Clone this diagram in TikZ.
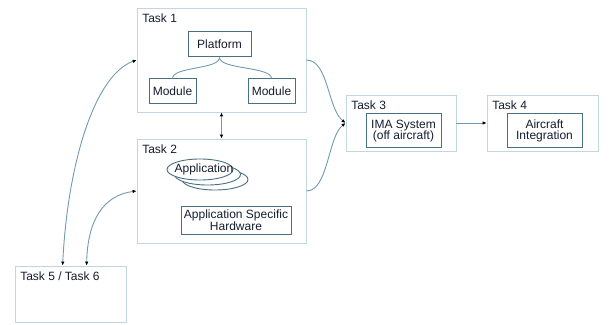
\documentclass[tikz,border=0pt]{standalone}
\usepackage{fontspec}
\setmainfont{Liberation Sans}
\usepackage{xcolor}
\usetikzlibrary{arrows.meta}
\usetikzlibrary{shapes.geometric, math}
\definecolor{myblue}{RGB}{192,214,226}
\definecolor{myteal}{RGB}{72,112,128}
\definecolor{mylink}{RGB}{112,155,176}
\definecolor{mytext}{RGB}{20,28,44}

\tikzset{
  task/.style={draw=myblue, line width=0.8pt, inner sep=0pt},
  tasklabel/.style={anchor=north west, inner sep=1.5pt},
  inbox/.style={draw=myteal, line width=1pt, inner sep=1pt, align=center},
  app/.style={ellipse, draw=myteal, line width=0.9pt, fill=white, inner sep=0pt,
    minimum width=66pt, minimum height=21pt},
  link/.style={draw=mylink, line width=0.9pt},
  tip/.style={-{Latex[color=black,length=4pt,width=3.5pt]}},
  bothtip/.style={{Latex[color=black,length=4pt,width=3.5pt]}-{Latex[color=black,length=4pt,width=3.5pt]}}
}

\begin{document}
\begin{tikzpicture}[x=1pt, y=1pt, font=\fontsize{12}{13.5}\selectfont, text=mytext]
\tikzmath{
\bw=169; \bh=104;
\sw=111; \sh=56;
}
\useasboundingbox (0,0) rectangle (609,324);

% task boxes
\node[task, minimum width=\bw, minimum height=\bh] (task1) at (221.5,264) {};
\node[task, minimum width=\bw, minimum height=\bh] (task2) at (221.5,133) {};
\node[task, minimum width=110, minimum height=\sh] (task3) at (401,201) {};
\node[task, minimum width=\sw, minimum height=\sh] (task4) at (542.5,201) {};
\node[task, minimum width=\sw, minimum height=\sh] (task56) at (70.5,30) {};

\node[tasklabel] (lab1) at ([shift={(4,-4.5)}]task1.north west) {Task 1};
\node[tasklabel] (lab2) at ([shift={(4,-4.5)}]task2.north west) {Task 2};
\node[tasklabel] (lab3) at ([shift={(4,-4.5)}]task3.north west) {Task 3};
\node[tasklabel] (lab4) at ([shift={(4,-4.5)}]task4.north west) {Task 4};
\node[tasklabel] (lab56) at ([shift={(4,-4.5)}]task56.north west) {Task 5 / Task 6};

% task 1
\node[inbox, minimum width=63, minimum height=25] (platform) at (219.5,279.5) {Platform};
\node[inbox, minimum width=47, minimum height=25] (modl) at (172.5,232.5) {Module};
\node[inbox, minimum width=47, minimum height=25] (modr) at (271.5,232.5) {Module};
\draw[link] (platform.south) .. controls +(0,-12) and +(0,12) .. (modl.north);
\draw[link] (platform.south) .. controls +(0,-12) and +(0,12) .. (modr.north);

% task 2
\node[app] (app3) at (215,144.5) {};
\node[app] (app2) at (207.5,149.5) {};
\node[app] (app1) at (200,154.5) {};
\node (apptext) at (204,155) {Application};
\node[inbox, minimum width=110, minimum height=28] (hw) at (236,104) {Application Specific\\[-2pt]Hardware};

% task 3 and 4
\node[inbox, minimum width=75, minimum height=34] (ima) at (403.5,193) {IMA System\\[-2pt](off aircraft)};
\node[inbox, minimum width=75, minimum height=34] (acint) at (544.5,193) {Aircraft\\[-2pt]Integration};

% connectors
\draw[link, bothtip] (task1.south) -- (task2.north);
\draw[link, tip] (task1.east) .. controls +(22,0) and +(-18,14) .. (task3.west);
\draw[link, tip] (task2.east) .. controls +(22,0) and +(-18,-14) .. (task3.west);
\draw[link, tip] (task3.east) -- (task4.west);
\draw[link, bothtip] ([xshift=48]task56.north west) .. controls +(5,102) and +(-42,-15) .. (task1.west);
\draw[link, bothtip] ([xshift=72]task56.north west) .. controls +(1,47) and +(-32,-4) .. (task2.west);
\end{tikzpicture}
\end{document}
